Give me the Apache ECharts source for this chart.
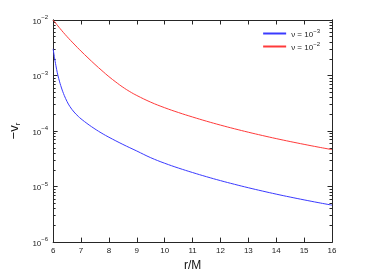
<!DOCTYPE html>
<html><head><meta charset="utf-8">
<script src="https://cdn.jsdelivr.net/npm/echarts@6/dist/echarts.min.js"></script>
<style>html,body{margin:0;padding:0;background:#fff}#c{width:368px;height:277px}</style>
</head><body><div id="c"></div>
<script>
var rBlue = [6.00,6.05,6.10,6.15,6.20,6.30,6.40,6.50,6.60,6.75,6.90,7.00,7.25,7.50,7.75,8.00,8.50,9.00,9.50,10.0,10.5,11.0,11.5,12.0,12.5,13.0,13.5,14.0,14.5,15.0,15.5,16.0];
var vBlue = [3.02e-3,2.09e-3,1.50e-3,1.12e-3,8.81e-4,5.96e-4,4.37e-4,3.39e-4,2.77e-4,2.20e-4,1.84e-4,1.66e-4,1.33e-4,1.09e-4,9.10e-5,7.74e-5,5.75e-5,4.37e-5,3.31e-5,2.63e-5,2.15e-5,1.79e-5,1.505e-5,1.28e-5,1.10e-5,9.53e-6,8.32e-6,7.31e-6,6.47e-6,5.76e-6,5.15e-6,4.63e-6];
var rRed = [6.00,6.25,6.50,6.75,7.00,7.25,7.50,7.75,8.00,8.25,8.50,8.75,9.00,9.50,10.0,10.5,11.0,11.5,12.0,12.5,13.0,13.5,14.0,14.5,15.0,15.5,16.0];
var vRed = [1.0e-2,7.0e-3,5.01e-3,3.69e-3,2.75e-3,2.08e-3,1.585e-3,1.225e-3,9.55e-4,7.62e-4,6.17e-4,5.13e-4,4.37e-4,3.31e-4,2.63e-4,2.15e-4,1.79e-4,1.505e-4,1.28e-4,1.10e-4,9.53e-5,8.32e-5,7.31e-5,6.47e-5,5.76e-5,5.15e-5,4.63e-5];
var xTicks = [6,7,8,9,10,11,12,13,14,15,16];
var yTicks = [1e-6,1e-5,1e-4,1e-3,1e-2];
var seriesNames = ['ν = 10^-3','ν = 10^-2'];

var minorVals = [];
for (var d = -6; d < -2; d++) for (var m = 2; m <= 9; m++) minorVals.push(m * Math.pow(10, d));

function pairs(xs, ys){ return xs.map(function(x,i){ return [x, ys[i]]; }); }
var axisColor = '#262626';
var FF = 'Liberation Sans, Arial';
function yax(pos, showLabel, minor){
  return {
    type:'log', logBase:10, min:1e-6, max:1e-2, position:pos,
    axisLine:{show:true, onZero:false, lineStyle:{color:axisColor, width:1}},
    axisTick:{show:true, inside:true, length: minor ? 2.5 : 4.5, lineStyle:{color:axisColor},
      customValues: minor ? minorVals : yTicks},
    axisLabel:{show:showLabel, margin:5, color:'#222', fontFamily:FF, fontSize:8,
      customValues: yTicks,
      formatter:function(v){ var e = Math.round(Math.log10(v)); return '{b|10}{s|' + (e<0?'−':'') + Math.abs(e) + '}'; },
      rich:{b:{fontSize:8, color:'#222', fontFamily:FF, padding:[3,0,0,0]}, s:{fontSize:6, color:'#222', fontFamily:FF, verticalAlign:'top', padding:[0,0,3,0]}}},
    splitLine:{show:false},
    name: (pos==='left' && showLabel) ? '{a|−v}{r|r}' : '',
    nameLocation:'middle', nameGap:17, nameRotate:90,
    nameTextStyle:{rich:{a:{fontSize:13, color:'#111', fontFamily:FF}, r:{fontSize:8, color:'#111', fontFamily:FF, verticalAlign:'bottom', padding:[6,0,0,0]}}}
  };
}
function xax(pos, showLabel){
  return {
    type:'value', min:6, max:16, interval:1, position:pos,
    axisLine:{show:true, onZero:false, lineStyle:{color:axisColor, width:1}},
    axisTick:{show:true, inside:true, length:4.5, lineStyle:{color:axisColor}},
    axisLabel:{show:showLabel, margin:5, color:'#222', fontFamily:FF, fontSize:8,
      customValues: xTicks},
    splitLine:{show:false},
    name: showLabel ? 'r/M' : '', nameLocation:'middle', nameGap:14,
    nameTextStyle:{fontSize:12, color:'#111', fontFamily:FF}
  };
}
var legendRich = {b:{fontSize:8, color:'#222', fontFamily:FF, padding:[3,0,0,0]}, s:{fontSize:6, color:'#222', fontFamily:FF, verticalAlign:'top', padding:[0,0,3,0]}};
var chart = echarts.init(document.getElementById('c'), null, {renderer:'canvas'});
chart.setOption({
  animation:false,
  backgroundColor:'#fff',
  grid:{left:47, right:36, top:20, bottom:32, containLabel:false},
  legend:{
    orient:'vertical', right:43, top:23, itemGap:2, itemWidth:23, itemHeight:2,
    icon:'rect',
    data:seriesNames,
    formatter:function(n){ var p = n.split('^'); return '{b|' + p[0] + '}{s|' + p[1].replace('-', '−') + '}'; },
    textStyle:{rich:legendRich, fontSize:8}
  },
  xAxis:[xax('bottom', true), xax('top', false)],
  yAxis:[yax('left', true, false), yax('left', false, true), yax('right', false, false), yax('right', false, true)],
  series:[
    {name:seriesNames[0], type:'line', smooth:0.4, showSymbol:false, xAxisIndex:0, yAxisIndex:0,
     lineStyle:{color:'#3a3aff', width:1}, itemStyle:{color:'#3a3aff'}, data:pairs(rBlue, vBlue)},
    {name:seriesNames[1], type:'line', smooth:0.4, showSymbol:false, xAxisIndex:0, yAxisIndex:0,
     lineStyle:{color:'#ff3a3a', width:1}, itemStyle:{color:'#ff3a3a'}, data:pairs(rRed, vRed)}
  ]
});
</script></body></html>
